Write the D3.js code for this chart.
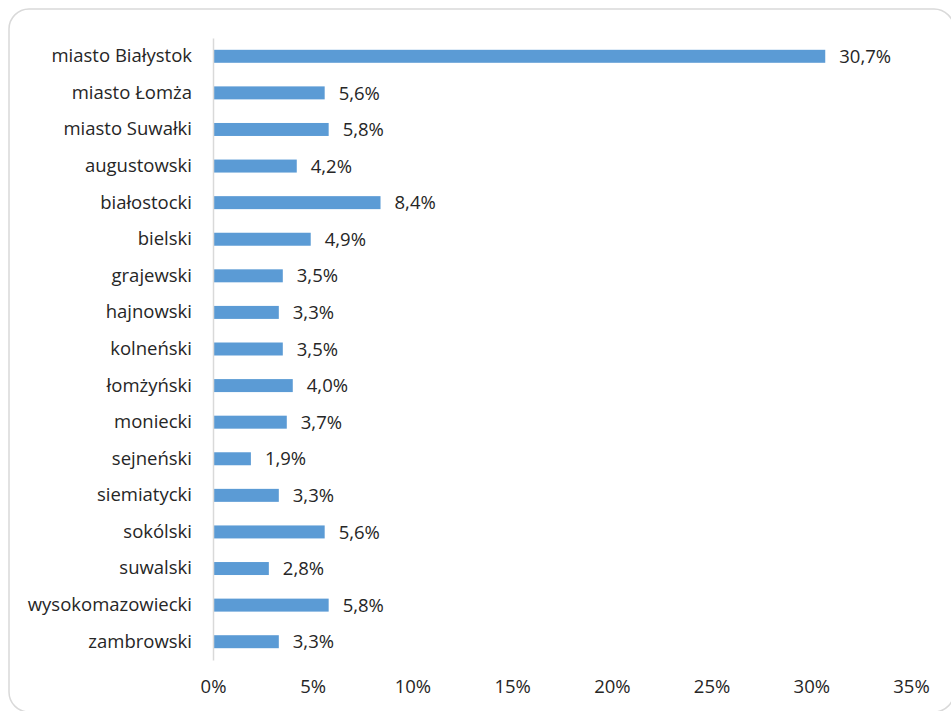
<!DOCTYPE html>
<html>
<head>
<meta charset="utf-8">
<script src="https://cdn.jsdelivr.net/npm/d3@7"></script>
<style>
  body { margin: 0; background: #fff; }
  svg { display: block; }
  text { font-family: "Open Sans", sans-serif; fill: #262626; }
</style>
</head>
<body>
<svg id="chart" width="951" height="711"></svg>
<script>
// Share per district / city (percent)
const categories = [
  "miasto Białystok", "miasto Łomża", "miasto Suwałki", "augustowski",
  "białostocki", "bielski", "grajewski", "hajnowski", "kolneński",
  "łomżyński", "moniecki", "sejneński", "siemiatycki", "sokólski",
  "suwalski", "wysokomazowiecki", "zambrowski"
];
const values = [30.7, 5.6, 5.8, 4.2, 8.4, 4.9, 3.5, 3.3, 3.5, 4.0, 3.7, 1.9, 3.3, 5.6, 2.8, 5.8, 3.3];
const xTicks = [0, 5, 10, 15, 20, 25, 30, 35];

const FONT = "'Open Sans', sans-serif";
const FS = 18.5;

const svg = d3.select("#chart");

// Rounded frame
svg.append("rect")
  .attr("x", 9).attr("y", 9)
  .attr("width", 945).attr("height", 703)
  .attr("rx", 20).attr("ry", 20)
  .attr("fill", "#fff")
  .attr("stroke", "#d9d9d9")
  .attr("stroke-width", 1.5);

const x = d3.scaleLinear().domain([0, 35]).range([213, 911]);
const y = d3.scaleBand().domain(categories).range([38, 660]).paddingInner(0.645).paddingOuter(0.3225);

const fmt = v => v.toFixed(1).replace(".", ",") + "%";

// Bars
svg.append("g").selectAll("rect")
  .data(values)
  .join("rect")
  .attr("x", x(0))
  .attr("y", (d, i) => y(categories[i]))
  .attr("width", d => x(d) - x(0))
  .attr("height", y.bandwidth())
  .attr("fill", "#5b9bd5");

// Value labels
svg.append("g").selectAll("text")
  .data(values)
  .join("text")
  .attr("x", d => x(d) + 14)
  .attr("y", (d, i) => y(categories[i]) + y.bandwidth() / 2)
  .attr("dy", "0.36em")
  .attr("font-size", FS)
  .text(fmt);

// Category axis
const yAxis = svg.append("g")
  .attr("transform", `translate(${x(0)},0)`)
  .call(d3.axisLeft(y).tickSize(0).tickPadding(21));
yAxis.select(".domain").attr("stroke", "#d9d9d9").attr("stroke-width", 1.5);
yAxis.selectAll("text").attr("font-size", FS).attr("fill", "#262626")
  .style("font-family", FONT);

// Percent axis (labels only)
const xAxis = svg.append("g")
  .attr("transform", "translate(0,672)")
  .call(d3.axisBottom(x).tickValues(xTicks).tickSize(0).tickFormat(d => d + "%"));
xAxis.select(".domain").remove();
xAxis.selectAll("text")
  .attr("y", 21).attr("dy", null)
  .attr("font-size", FS).attr("fill", "#262626")
  .style("font-family", FONT);
</script>
</body>
</html>
